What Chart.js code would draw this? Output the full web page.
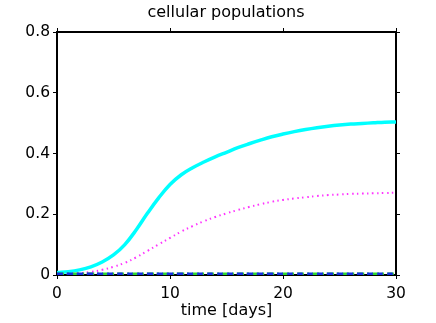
<!DOCTYPE html>
<html>
<head>
<meta charset="utf-8">
<script src="https://cdn.jsdelivr.net/npm/chart.js@4"></script>
<style>
    html, body { margin: 0; padding: 0; background: #fff; }
    #wrap { width: 436px; height: 323px; }
</style>
</head>
<body>
<div id="wrap"><canvas id="popChart" width="436" height="323"></canvas></div>
<script>
// time axis (days) and the four cellular populations
const days = [0, 1, 2, 3, 4, 5, 6, 7, 8, 9, 10, 11, 12, 13, 14, 15, 16, 17, 18, 19, 20,
              21, 22, 23, 24, 25, 26, 27, 28, 29, 30];
const cyanPop = [0.008, 0.011, 0.017, 0.027, 0.043, 0.066, 0.100, 0.148, 0.203, 0.254, 0.298,
                 0.330, 0.353, 0.372, 0.389, 0.404, 0.419, 0.432, 0.444, 0.455, 0.464,
                 0.472, 0.479, 0.485, 0.490, 0.494, 0.497, 0.499, 0.501, 0.503, 0.504];
const magentaPop = [0.003, 0.004, 0.006, 0.010, 0.017, 0.027, 0.040, 0.058, 0.079, 0.101, 0.122,
                    0.143, 0.161, 0.177, 0.191, 0.203, 0.214, 0.224, 0.233, 0.241, 0.247,
                    0.252, 0.256, 0.260, 0.263, 0.265, 0.267, 0.268, 0.269, 0.270, 0.271];
const bluePop = [0.004, 0.004, 0.004, 0.004, 0.004, 0.004, 0.004, 0.004, 0.004, 0.004, 0.004,
                 0.004, 0.004, 0.004, 0.004, 0.004, 0.004, 0.004, 0.004, 0.004, 0.004,
                 0.004, 0.004, 0.004, 0.004, 0.004, 0.004, 0.004, 0.004, 0.004, 0.004];
const greenPop = [0.004, 0.004, 0.004, 0.004, 0.004, 0.004, 0.004, 0.004, 0.004, 0.004, 0.004,
                  0.004, 0.004, 0.004, 0.004, 0.004, 0.004, 0.004, 0.004, 0.004, 0.004,
                  0.004, 0.004, 0.004, 0.004, 0.004, 0.004, 0.004, 0.004, 0.004, 0.004];
const xTicks = [0, 10, 20, 30];
const yTicks = [0, 0.2, 0.4, 0.6, 0.8];

const pts = arr => arr.map((v, i) => ({ x: days[i], y: v }));
const family = '"DejaVu Sans", Verdana, sans-serif';
const tickFont = { family: family, size: 15.5 };
const titleFont = { family: family, size: 16, weight: 'normal', lineHeight: 1.2 };

const frameGrid = { display: true, drawOnChartArea: false, drawTicks: true, tickLength: 4, color: '#000', lineWidth: 1 };
const frameBorder = { display: true, color: '#000', width: 2 };

new Chart(document.getElementById('popChart'), {
    type: 'line',
    data: {
        datasets: [
            { data: pts(bluePop), borderColor: '#1530e0', borderWidth: 2.5, borderDash: [6, 4] },
            { data: pts(greenPop), borderColor: '#2fd62f', borderWidth: 2.5, borderDash: [7, 3, 2, 3] },
            { data: pts(magentaPop), borderColor: '#ff33ff', borderWidth: 2, borderDash: [1.5, 3.5] },
            { data: pts(cyanPop), borderColor: '#00ffff', borderWidth: 3.5 }
        ]
    },
    options: {
        responsive: false,
        animation: false,
        // left padding keeps the title centred over the plot box, like the reference
        layout: { padding: { left: 16, right: 0, top: 0, bottom: 0 } },
        elements: { point: { radius: 0 }, line: { tension: 0.4, borderCapStyle: 'butt' } },
        plugins: {
            legend: { display: false },
            tooltip: { enabled: false },
            title: {
                display: true,
                text: 'cellular populations',
                color: '#000',
                font: titleFont,
                padding: { top: 3, bottom: 5.8 }
            }
        },
        scales: {
            x: {
                type: 'linear', position: 'bottom', min: 0, max: 30,
                afterBuildTicks: s => { s.ticks = xTicks.map(v => ({ value: v })); },
                afterFit: s => { s.height = 48; },
                grid: frameGrid, border: frameBorder,
                ticks: { color: '#000', font: tickFont, padding: 6, maxRotation: 0 },
                title: { display: true, text: 'time [days]', color: '#000',
                         font: titleFont, padding: { top: 0, bottom: 3 } }
            },
            x2: {
                type: 'linear', position: 'top', min: 0, max: 30,
                afterBuildTicks: s => { s.ticks = xTicks.map(v => ({ value: v })); },
                afterFit: s => { s.height = 4; },
                grid: frameGrid, border: frameBorder,
                ticks: { display: false }
            },
            y: {
                type: 'linear', position: 'left', min: 0, max: 0.8,
                afterBuildTicks: s => { s.ticks = yTicks.map(v => ({ value: v })); },
                afterFit: s => { s.width = 41; },
                grid: frameGrid, border: frameBorder,
                ticks: { color: '#000', font: tickFont, padding: 3, callback: v => String(+v.toFixed(1)) }
            },
            y2: {
                type: 'linear', position: 'right', min: 0, max: 0.8,
                afterBuildTicks: s => { s.ticks = yTicks.map(v => ({ value: v })); },
                afterFit: s => { s.width = 40; },
                grid: frameGrid, border: frameBorder,
                ticks: { display: false }
            }
        }
    }
});
</script>
</body>
</html>
